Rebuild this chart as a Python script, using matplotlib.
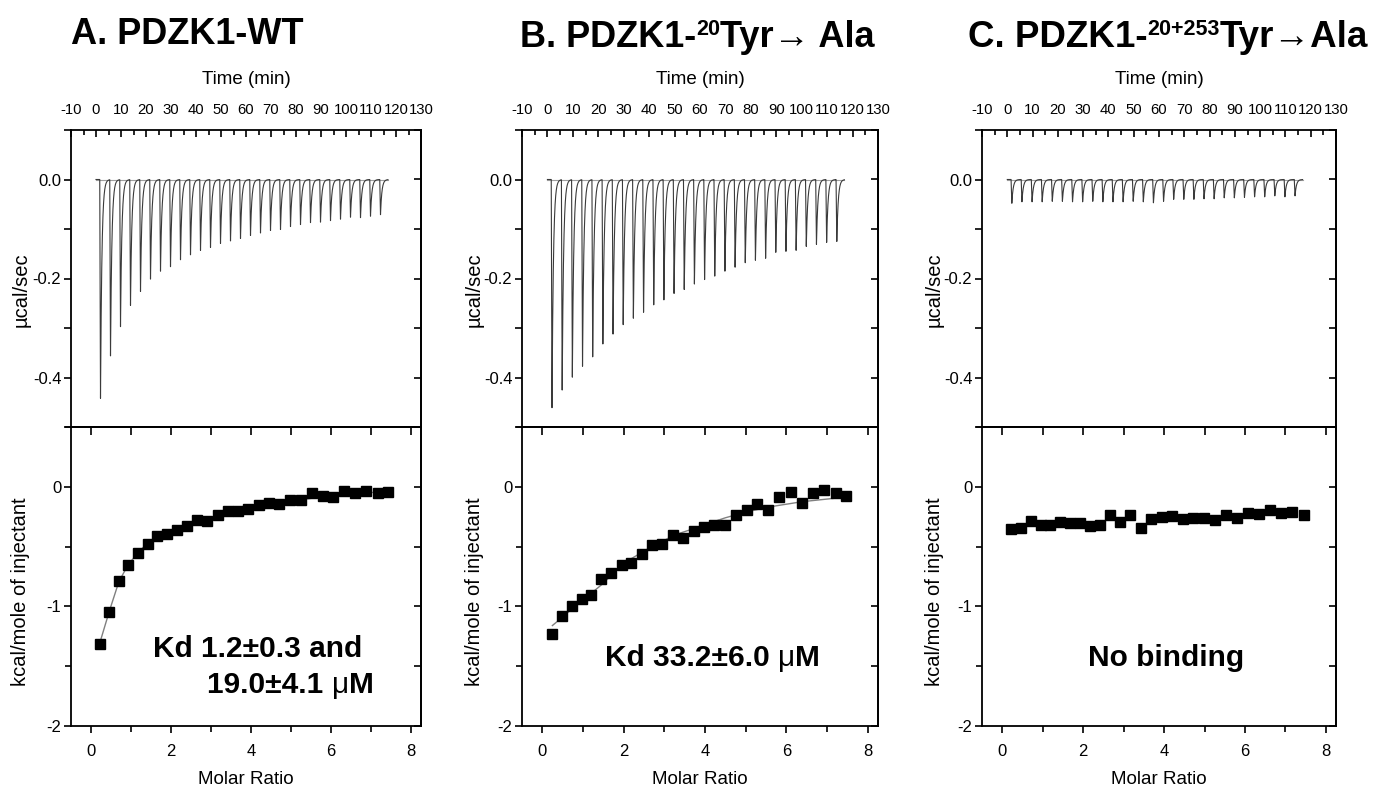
import numpy as np
import matplotlib
matplotlib.use("Agg")
import matplotlib.pyplot as plt
from matplotlib.ticker import MultipleLocator, FuncFormatter

plt.rcParams['font.family'] = ['Liberation Sans', 'DejaVu Sans']
plt.rcParams['axes.unicode_minus'] = False

# ---------------- data ----------------
inj_times = [1.5, 5.5, 9.5, 13.5, 17.5, 21.5, 25.5, 29.5, 33.5, 37.5, 41.5, 45.5,
             49.5, 53.5, 57.5, 61.5, 65.5, 69.5, 73.5, 77.5, 81.5, 85.5, 89.5,
             93.5, 97.5, 101.5, 105.5, 109.5, 113.5]
run_end = 116.8

depth_A = [0.442, 0.356, 0.297, 0.254, 0.226, 0.201, 0.185, 0.176, 0.162, 0.152,
           0.143, 0.137, 0.129, 0.124, 0.119, 0.113, 0.108, 0.103, 0.101, 0.095,
           0.091, 0.087, 0.086, 0.083, 0.080, 0.076, 0.077, 0.074, 0.071]
depth_B = [0.461, 0.425, 0.399, 0.377, 0.358, 0.332, 0.312, 0.293, 0.280, 0.268,
           0.253, 0.243, 0.230, 0.222, 0.211, 0.202, 0.195, 0.185, 0.177, 0.168,
           0.163, 0.159, 0.147, 0.145, 0.143, 0.135, 0.131, 0.127, 0.125]
depth_C = [0.048, 0.045, 0.045, 0.045, 0.044, 0.044, 0.045, 0.045, 0.044, 0.045,
           0.045, 0.045, 0.044, 0.045, 0.047, 0.044, 0.040, 0.040, 0.040, 0.039,
           0.039, 0.037, 0.037, 0.036, 0.035, 0.035, 0.033, 0.035, 0.033]

ratio_A = [0.225, 0.458, 0.70, 0.933, 1.175, 1.417, 1.658, 1.90, 2.14, 2.40,
           2.65, 2.91, 3.17, 3.42, 3.675, 3.93, 4.20, 4.46, 4.71, 4.975,
           5.24, 5.53, 5.79, 6.06, 6.33, 6.60, 6.875, 7.17, 7.43]
heat_A = [-1.316, -1.045, -0.784, -0.650, -0.555, -0.476, -0.412, -0.392, -0.364,
          -0.325, -0.275, -0.286, -0.238, -0.200, -0.199, -0.182, -0.154, -0.132,
          -0.146, -0.112, -0.112, -0.056, -0.078, -0.084, -0.034, -0.050, -0.034,
          -0.056, -0.042]
fit_A = [-1.30, -1.04, -0.79, -0.65, -0.55, -0.47, -0.42, -0.38, -0.35, -0.32,
         -0.29, -0.27, -0.245, -0.22, -0.20, -0.185, -0.165, -0.15, -0.135, -0.12,
         -0.11, -0.095, -0.085, -0.075, -0.065, -0.058, -0.05, -0.045, -0.04]

ratio_B = [0.247, 0.495, 0.726, 0.973, 1.204, 1.452, 1.699, 1.946, 2.19, 2.44,
           2.69, 2.94, 3.20, 3.45, 3.72, 3.98, 4.23, 4.49, 4.75, 5.02,
           5.28, 5.55, 5.82, 6.10, 6.37, 6.65, 6.93, 7.21, 7.47]
heat_B = [-1.228, -1.083, -0.994, -0.939, -0.903, -0.767, -0.722, -0.656, -0.633,
          -0.564, -0.483, -0.478, -0.403, -0.428, -0.367, -0.333, -0.322, -0.322,
          -0.236, -0.194, -0.144, -0.194, -0.083, -0.044, -0.133, -0.050, -0.028,
          -0.050, -0.078]
fit_B = [-1.16, -1.09, -1.02, -0.95, -0.89, -0.82, -0.74, -0.66, -0.60, -0.55,
         -0.50, -0.46, -0.41, -0.38, -0.35, -0.32, -0.29, -0.26, -0.235, -0.21,
         -0.19, -0.17, -0.155, -0.14, -0.125, -0.115, -0.105, -0.095, -0.09]

ratio_C = [0.22, 0.47, 0.70, 0.95, 1.19, 1.44, 1.67, 1.92, 2.16, 2.41,
           2.66, 2.91, 3.17, 3.42, 3.68, 3.95, 4.20, 4.46, 4.72, 4.99,
           5.25, 5.52, 5.80, 6.07, 6.34, 6.61, 6.89, 7.17, 7.45]
heat_C = [-0.356, -0.342, -0.283, -0.319, -0.319, -0.294, -0.306, -0.300, -0.328,
          -0.319, -0.239, -0.294, -0.236, -0.347, -0.272, -0.256, -0.242, -0.269,
          -0.258, -0.264, -0.278, -0.233, -0.258, -0.217, -0.228, -0.194, -0.222,
          -0.208, -0.236]

time_ticks = list(range(-10, 131, 10))

# ---------------- layout ----------------
W, H = 1378, 790
fig = plt.figure(figsize=(W / 100, H / 100), dpi=100)

lefts = [71, 522, 982]
rights = [421, 878, 1336]
top_t, mid, bot_b = 130, 427, 726


def rect(l, r, t, b):
    return [l / W, 1 - b / H, (r - l) / W, (b - t) / H]


def fx(px):
    return px / W


def fy(py):
    return 1 - py / H


def kernel(dt):
    out = np.zeros_like(dt)
    m1 = (dt >= 0) & (dt < 0.3)
    out[m1] = dt[m1] / 0.3
    m2 = dt >= 0.3
    out[m2] = np.exp(-(dt[m2] - 0.3) / 0.55)
    return out


def fmt1(v, p):
    return "0.0" if abs(v) < 1e-9 else f"{v:.1f}"


def fmt0(v, p):
    return "0" if abs(v) < 1e-9 else f"{v:.0f}"


spine_w = 1.3
tick_w = 1.2

depths = [depth_A, depth_B, depth_C]
ratios = [ratio_A, ratio_B, ratio_C]
heats = [heat_A, heat_B, heat_C]
fits = [fit_A, fit_B, None]
ylab_off = [50, 48, 48]

t = np.arange(0, run_end, 0.02)

for i in range(3):
    l, r = lefts[i], rights[i]
    # ---- raw thermogram ----
    ax = fig.add_axes(rect(l, r, top_t, mid))
    y = np.zeros_like(t)
    for ti, d in zip(inj_times, depths[i]):
        y -= d * kernel(t - ti)
    ax.plot([0, run_end], [0, 0], color='#a0a0a0', lw=0.8, zorder=1)
    ax.plot(t, y, color='#3a3a3a', lw=0.8, zorder=2)
    ax.set_xlim(-10, 130)
    ax.set_ylim(-0.5, 0.1)
    ax.xaxis.tick_top()
    ax.set_xticks(time_ticks)
    ax.xaxis.set_minor_locator(MultipleLocator(5))
    ax.tick_params(axis='x', which='both', direction='in', top=True, bottom=False,
                   labeltop=True, labelbottom=False, pad=9, labelsize=10.7,
                   width=tick_w)
    ax.tick_params(axis='x', which='major', length=5)
    ax.tick_params(axis='x', which='minor', length=3.5)
    ax.yaxis.set_major_locator(MultipleLocator(0.2))
    ax.yaxis.set_minor_locator(MultipleLocator(0.1))
    ax.yaxis.set_major_formatter(FuncFormatter(fmt1))
    ax.tick_params(axis='y', which='both', direction='out', left=True, right=False,
                   length=5, width=tick_w, labelsize=12, pad=2)
    sec = ax.secondary_yaxis('right')
    sec.yaxis.set_major_locator(MultipleLocator(0.1))
    sec.tick_params(axis='y', which='both', direction='in', length=5, width=tick_w,
                    labelright=False)
    sec.spines['right'].set_linewidth(spine_w)
    for s in ax.spines.values():
        s.set_linewidth(spine_w)
    fig.text(fx((l + r) / 2), fy(80), "Time (min)", ha='center', va='center',
             fontsize=13.5)
    fig.text(fx(l - ylab_off[i]), fy(290), "µcal/sec", rotation=90,
             ha='center', va='center', fontsize=14.5)

    # ---- integrated heats ----
    bx = fig.add_axes(rect(l, r, mid, bot_b))
    if fits[i] is not None:
        bx.plot(ratios[i], fits[i], color='#808080', lw=1.0, zorder=2)
    bx.plot(ratios[i], heats[i], 's', color='black', markersize=7, zorder=3)
    bx.set_xlim(-0.5, 8.25)
    bx.set_ylim(-2, 0.5)
    bx.xaxis.set_major_locator(MultipleLocator(2))
    bx.xaxis.set_minor_locator(MultipleLocator(1))
    bx.xaxis.set_major_formatter(FuncFormatter(fmt0))
    bx.tick_params(axis='x', which='both', direction='out', top=False, bottom=True,
                   width=tick_w, labelsize=12, pad=8)
    bx.tick_params(axis='x', which='major', length=5)
    bx.tick_params(axis='x', which='minor', length=4)
    bx.yaxis.set_major_locator(MultipleLocator(1))
    bx.yaxis.set_minor_locator(MultipleLocator(0.5))
    bx.yaxis.set_major_formatter(FuncFormatter(fmt0))
    bx.tick_params(axis='y', which='both', direction='out', left=True, right=False,
                   width=tick_w, labelsize=12, pad=2)
    bx.tick_params(axis='y', which='major', length=5)
    bx.tick_params(axis='y', which='minor', length=4)
    secy = bx.secondary_yaxis('right')
    secy.yaxis.set_major_locator(MultipleLocator(0.5))
    secy.tick_params(axis='y', which='both', direction='in', length=5, width=tick_w,
                     labelright=False)
    secx = bx.secondary_xaxis('top')
    secx.xaxis.set_major_locator(MultipleLocator(1))
    secx.tick_params(axis='x', which='both', direction='in', length=6, width=tick_w,
                     labeltop=False)
    for s in list(bx.spines.values()) + [secy.spines['right'], secx.spines['top']]:
        s.set_linewidth(spine_w)
    fig.text(fx((l + r) / 2), fy(780), "Molar Ratio", ha='center', va='center',
             fontsize=13.5)
    fig.text(fx(l - ylab_off[i]), fy(592), "kcal/mole of injectant",
             rotation=90, ha='center', va='center', fontsize=14.5)

# ---------------- composed texts ----------------
renderer = fig.canvas.get_renderer()


def compose(parts, baseline, left=None, center=None):
    widths = []
    for txt, size, rise, wt in parts:
        tt = fig.text(0, 0, txt, fontsize=size, fontweight=wt)
        widths.append(tt.get_window_extent(renderer).width)
        tt.remove()
    total = sum(widths)
    x = left if left is not None else center - total / 2
    for (txt, size, rise, wt), w in zip(parts, widths):
        fig.text(fx(x), fy(baseline - rise), txt, fontsize=size, fontweight=wt,
                 va='baseline', ha='left')
        x += w


# annotations
compose([("Kd 1.2±0.3 and", 21.5, 0, 'bold')], 657, left=153)
compose([("19.0±4.1 ", 21.5, 0, 'bold'), ("μ", 21.5, 0, 'normal'),
         ("M", 21.5, 0, 'bold')], 693, left=207)
compose([("Kd 33.2±6.0 ", 21.5, 0, 'bold'), ("μ", 21.5, 0, 'normal'),
         ("M", 21.5, 0, 'bold')], 666, left=605)
compose([("No binding", 21.5, 0, 'bold')], 666, left=1088)

# titles
compose([("A. PDZK1-WT", 26, 0, 'bold')], 44, left=71)
compose([("B. PDZK1-", 26, 0, 'bold'), ("20", 15.5, 12, 'bold'),
         ("Tyr→ Ala", 26, 0, 'bold')], 47, center=697)
compose([("C. PDZK1-", 26.5, 0, 'bold'), ("20+253", 15.5, 12, 'bold'),
         ("Tyr→Ala", 26.5, 0, 'bold')], 47, center=1168)

fig.savefig("out.png", dpi=100)
